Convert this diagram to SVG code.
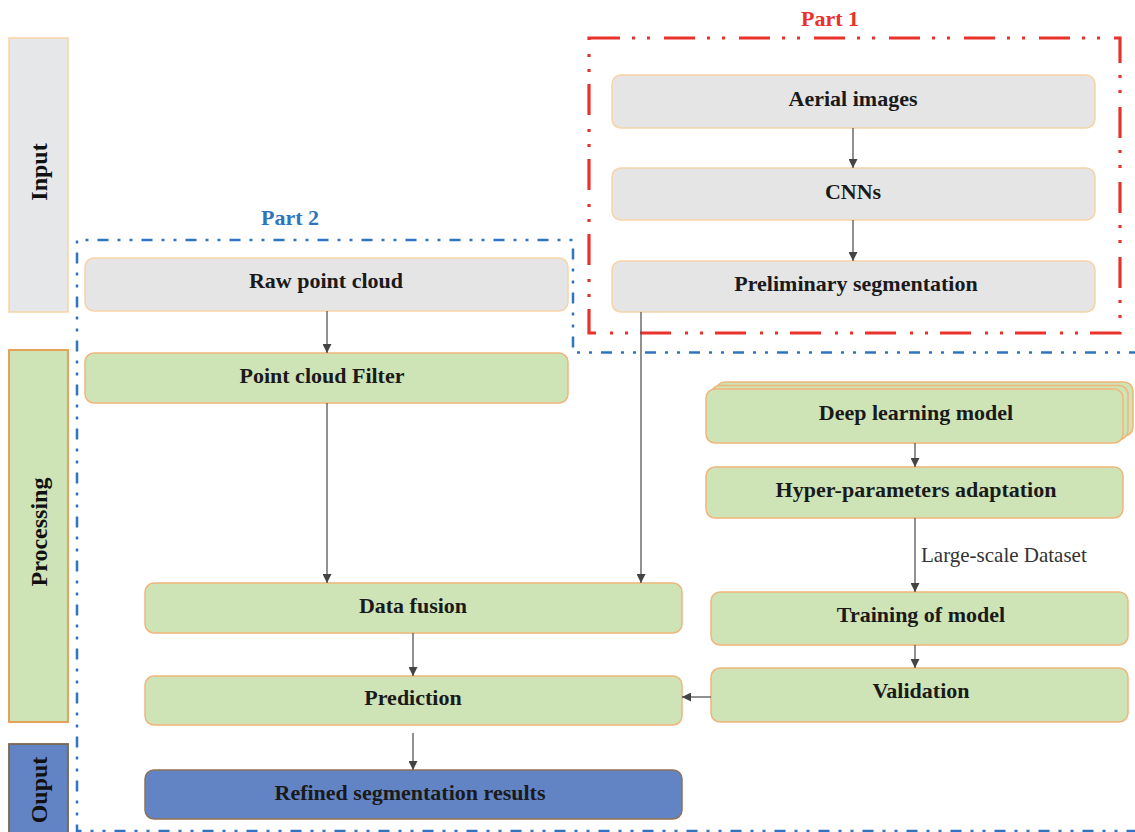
<svg xmlns="http://www.w3.org/2000/svg" width="1135" height="832" viewBox="0 0 1135 832">
<defs>
<marker id="ah" markerUnits="userSpaceOnUse" markerWidth="9" markerHeight="9" refX="9" refY="4.5" orient="auto">
<path d="M0,0 L9,4.5 L0,9 z" fill="#444"/>
</marker>
<style>
.t{font-family:"Liberation Serif","Times New Roman",serif;font-weight:bold;font-size:22px;fill:#1a1a1a;text-anchor:middle}
.side{font-family:"Liberation Serif","Times New Roman",serif;font-weight:bold;font-size:24px;fill:#111;text-anchor:middle}
.gray{fill:#e5e5e6;stroke:#f7d3a8;stroke-width:1.5}
.green{fill:#cee4b6;stroke:#f0b57a;stroke-width:1.5}
.blue{fill:#6384c4;stroke:#8e7258;stroke-width:1.5}
.con{stroke:#555;stroke-width:1.3;fill:none;marker-end:url(#ah)}
</style>
</defs>
<rect width="1135" height="832" fill="#ffffff"/>

<g id="side-bars">
<g id="input-bar"><rect x="9" y="38" width="59" height="274" fill="#e5e7e8" stroke="#f8d3a3" stroke-width="1.5"/><text class="side" transform="translate(47,172) rotate(-90)">Input</text></g>
<g id="processing-bar"><rect x="9" y="350" width="59" height="372" fill="#cee4b6" stroke="#e59a4c" stroke-width="1.8"/><text class="side" transform="translate(47,532) rotate(-90)">Processing</text></g>
<g id="output-bar"><rect x="9" y="744" width="59" height="95" fill="#6384c4" stroke="#7a6650" stroke-width="1.8"/><text class="side" transform="translate(47,790) rotate(-90)">Ouput</text></g>
</g>

<g id="part1">
<rect x="589" y="38" width="531" height="295" fill="none" stroke="#e8322b" stroke-width="3.2" stroke-dasharray="31 12 3 12 3 14"/>
<text x="830" y="26" style="font-family:'Liberation Serif','Times New Roman',serif;font-weight:bold;font-size:22px;fill:#e8322b;text-anchor:middle">Part 1</text>
</g>

<g id="part2">
<path d="M1140,352.5 L573,352.5 L573,240 L77,240 L77,831 L1140,831" fill="none" stroke="#2e74c0" stroke-width="2.5" stroke-dasharray="11 9 3 9 3 9"/>
<text x="290" y="225" style="font-family:'Liberation Serif','Times New Roman',serif;font-weight:bold;font-size:22px;fill:#2e74c0;text-anchor:middle">Part 2</text>
</g>

<g id="aerial"><rect class="gray" x="612" y="75" width="483" height="53" rx="9"/><text class="t" x="853" y="106">Aerial images</text></g>
<g id="cnns"><rect class="gray" x="612" y="168" width="483" height="52" rx="9"/><text class="t" x="853" y="199">CNNs</text></g>
<g id="prelim"><rect class="gray" x="612" y="261" width="483" height="51" rx="9"/><text class="t" x="856" y="291">Preliminary  segmentation</text></g>

<g id="raw"><rect class="gray" x="85" y="258" width="483" height="53" rx="9"/><text class="t" x="326" y="288">Raw point cloud</text></g>
<g id="filter"><rect class="green" x="85" y="353" width="483" height="50" rx="9"/><text class="t" x="322" y="383">Point cloud  Filter</text></g>

<g id="fusion"><rect class="green" x="145" y="583" width="537" height="50" rx="9"/><text class="t" x="413" y="613">Data fusion</text></g>
<g id="prediction"><rect class="green" x="145" y="676" width="537" height="49" rx="9"/><text class="t" x="413" y="705">Prediction</text></g>
<g id="refined"><rect class="blue" x="145" y="770" width="537" height="49" rx="9"/><text class="t" x="410" y="800">Refined segmentation results</text></g>

<g id="deep">
<rect class="green" x="716" y="382" width="417" height="54" rx="9"/>
<rect class="green" x="711" y="385.5" width="417" height="54" rx="9"/>
<rect class="green" x="706" y="389" width="417" height="54" rx="9"/>
<text class="t" x="916" y="420">Deep learning model</text>
</g>
<g id="hyper"><rect class="green" x="706" y="467" width="417" height="51" rx="9"/><text class="t" x="916" y="497">Hyper-parameters  adaptation</text></g>
<g id="training"><rect class="green" x="711" y="592" width="417" height="53" rx="9"/><text class="t" x="921" y="622">Training  of model</text></g>
<g id="validation"><rect class="green" x="711" y="668" width="417" height="54" rx="9"/><text class="t" x="921" y="698">Validation</text></g>

<g id="connectors">
<line class="con" x1="853" y1="128" x2="853" y2="168"/>
<line class="con" x1="853" y1="220" x2="853" y2="261"/>
<line class="con" x1="327" y1="311" x2="327" y2="353"/>
<line class="con" x1="327" y1="403" x2="327" y2="583"/>
<line class="con" x1="641" y1="312" x2="641" y2="583"/>
<line class="con" x1="413" y1="633" x2="413" y2="676"/>
<line class="con" x1="413" y1="733" x2="413" y2="770"/>
<line class="con" x1="915" y1="443" x2="915" y2="467"/>
<line class="con" x1="915" y1="518" x2="915" y2="592"/>
<line class="con" x1="915" y1="645" x2="915" y2="668"/>
<line class="con" x1="711" y1="697" x2="682" y2="697"/>
<text x="921" y="562" style="font-family:'Liberation Serif','Times New Roman',serif;font-size:21px;fill:#333">Large-scale  Dataset</text>
</g>
</svg>
